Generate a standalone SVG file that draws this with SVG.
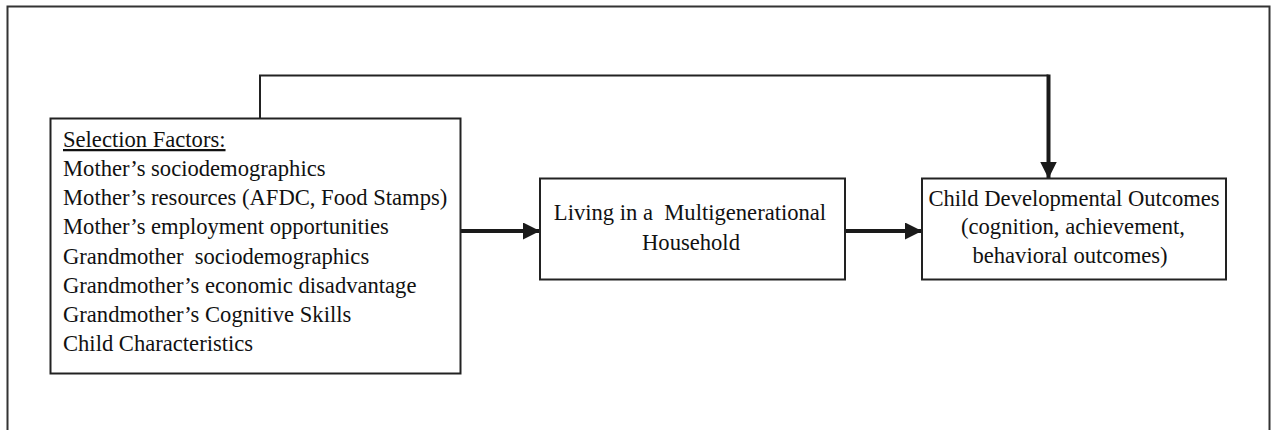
<svg xmlns="http://www.w3.org/2000/svg" width="1275" height="430" viewBox="0 0 1275 430">
<style>
  .box { fill: #ffffff; stroke: #222222; stroke-width: 2; }
  .frame { fill: none; stroke: #333333; stroke-width: 2; }
  .txt { font-family: "Liberation Serif", "Times New Roman", serif; font-size: 22.6px; fill: #111111; white-space: pre; }
  .mid { text-anchor: middle; }
  .thin { fill: none; stroke: #222222; stroke-width: 2; }
  .thick { fill: none; stroke: #1a1a1a; stroke-width: 4; }
</style>
<defs>
  <marker id="arrow" markerUnits="userSpaceOnUse" markerWidth="18" markerHeight="18" refX="17" refY="8.5" orient="auto">
    <path d="M0,0 L17,8.5 L0,17 Z" fill="#1a1a1a"/>
  </marker>
</defs>
<rect x="0" y="0" width="1275" height="430" fill="#ffffff"/>
<rect class="frame" x="7.5" y="6.5" width="1262" height="500"/>

<g id="connectors">
  <polyline class="thin" points="260,118 260,75.5 1048.5,75.5"/>
  <line class="thick" x1="1048.5" y1="74.5" x2="1048.5" y2="178.5" marker-end="url(#arrow)"/>
  <line class="thick" x1="461" y1="231" x2="540" y2="231" marker-end="url(#arrow)"/>
  <line class="thick" x1="845" y1="231" x2="922" y2="231" marker-end="url(#arrow)"/>
</g>

<g id="selection-factors">
  <rect class="box" x="50.5" y="118.5" width="410" height="255"/>
  <text class="txt" x="63" y="147" text-decoration="underline">Selection Factors:</text>
  <text class="txt" x="63" y="176.1">Mother’s sociodemographics</text>
  <text class="txt" x="63" y="205.3">Mother’s resources (AFDC, Food Stamps)</text>
  <text class="txt" x="63" y="234.4">Mother’s employment opportunities</text>
  <text class="txt" x="63" y="263.6">Grandmother  sociodemographics</text>
  <text class="txt" x="63" y="292.7">Grandmother’s economic disadvantage</text>
  <text class="txt" x="63" y="321.9">Grandmother’s Cognitive Skills</text>
  <text class="txt" x="63" y="351">Child Characteristics</text>
</g>

<g id="multigenerational-household">
  <rect class="box" x="540" y="178.5" width="305" height="101"/>
  <text class="txt mid" x="690" y="220">Living in a  Multigenerational</text>
  <text class="txt mid" x="691" y="250">Household</text>
</g>

<g id="child-outcomes">
  <rect class="box" x="922" y="178.5" width="304" height="101"/>
  <text class="txt mid" x="1074" y="205.5">Child Developmental Outcomes</text>
  <text class="txt mid" x="1073" y="234">(cognition, achievement,</text>
  <text class="txt mid" x="1070" y="262.5">behavioral outcomes)</text>
</g>
</svg>
